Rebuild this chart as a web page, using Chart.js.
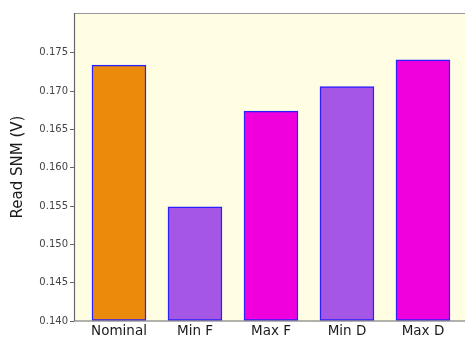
<!DOCTYPE html>
<html>
<head>
<meta charset="utf-8">
<script src="https://cdn.jsdelivr.net/npm/chart.js@4/dist/chart.umd.min.js"></script>
<style>
html,body{margin:0;padding:0;background:#fff;}
#wrap{width:465px;height:340px;position:relative;}
</style>
</head>
<body>
<div id="wrap"><canvas id="c" width="465" height="340"></canvas></div>
<script>
const categories = ["Nominal", "Min F", "Max F", "Min D", "Max D"];
const readSNM = [0.1734, 0.1549, 0.1674, 0.1706, 0.1741];
const barColors = ["#EC8A0C", "#A556E4", "#F000DC", "#A556E4", "#F000DC"];
const yTicks = [0.140, 0.145, 0.150, 0.155, 0.160, 0.165, 0.170, 0.175];

const bgPlugin = {
  id: 'bg',
  beforeDraw(chart) {
    const {ctx, chartArea: a} = chart;
    ctx.save();
    ctx.fillStyle = '#FFFEE2';
    ctx.fillRect(a.left, a.top, a.right - a.left, a.bottom - a.top);
    ctx.restore();
  },
  afterDraw(chart) {
    const {ctx, chartArea: a} = chart;
    ctx.save();
    ctx.lineWidth = 1.2;
    ctx.strokeStyle = '#999';
    ctx.beginPath();
    ctx.moveTo(a.left, a.top + 0.5);
    ctx.lineTo(a.right, a.top + 0.5);
    ctx.stroke();
    ctx.strokeStyle = '#666';
    ctx.beginPath();
    ctx.moveTo(a.left + 0.5, a.top);
    ctx.lineTo(a.left + 0.5, a.bottom);
    ctx.lineTo(a.right, a.bottom);
    ctx.stroke();
    ctx.restore();
  }
};

new Chart(document.getElementById('c'), {
  type: 'bar',
  data: {
    datasets: [{
      data: categories.map((c, i) => ({x: i, y: readSNM[i]})),
      backgroundColor: barColors,
      borderColor: '#2A20FF',
      borderWidth: 1.5,
      borderSkipped: false,
      barThickness: 54,
      base: 0.14
    }]
  },
  options: {
    responsive: false,
    animation: false,
    events: [],
    layout: {padding: {top: 13, right: 0, left: 0, bottom: 0}},
    plugins: {legend: {display: false}, tooltip: {enabled: false}},
    scales: {
      x: {
        type: 'linear',
        offset: false,
        min: -0.592,
        max: 4.553,
        afterBuildTicks(scale) { scale.ticks = categories.map((c, i) => ({value: i})); },
        afterFit(scale) { scale.height = 19; },
        ticks: {
          autoSkip: false,
          maxRotation: 0,
          padding: 2,
          color: '#1a1a1a',
          font: {family: 'DejaVu Sans', size: 13.5},
          callback: (v) => categories[v]
        },
        grid: {display: false, drawTicks: false, tickLength: 0},
        border: {display: false}
      },
      y: {
        min: 0.14,
        max: 0.1802,
        afterBuildTicks(scale) { scale.ticks = yTicks.map(v => ({value: v})); },
        afterFit(scale) { scale.width = 74; },
        ticks: {
          padding: 2,
          color: '#444',
          font: {family: 'DejaVu Sans', size: 10},
          callback: (v) => Number(v).toFixed(3)
        },
        grid: {drawOnChartArea: false, tickLength: 4, color: '#666'},
        border: {display: false},
        title: {
          display: true,
          text: 'Read SNM (V)',
          color: '#1a1a1a',
          font: {family: 'DejaVu Sans', size: 15},
          padding: {top: 9, bottom: 0}
        }
      }
    }
  },
  plugins: [bgPlugin]
});
</script>
</body>
</html>
